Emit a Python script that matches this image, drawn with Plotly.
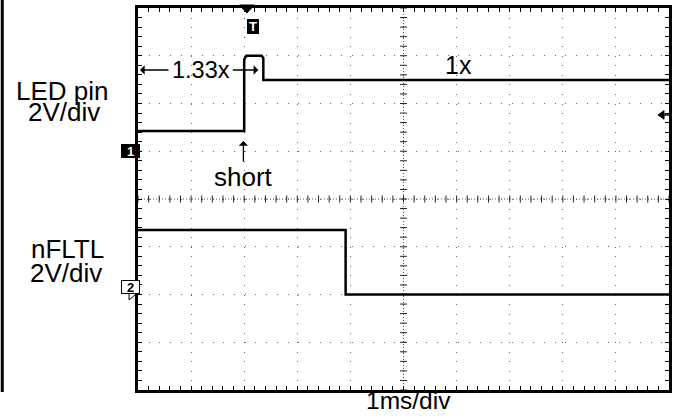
import plotly.graph_objects as go
import numpy as np

# time base 1 ms/div, 10 divisions; both channels 2 V/div, 8 divisions
t_led = [0, 2.0, 2.0, 2.04, 2.33, 2.36, 2.36, 10]
v_led = [0.85, 0.85, 3.85, 4.0, 4.0, 3.9, 2.98, 2.98]

t_fltl = [0, 3.91, 3.91, 10]
v_fltl = [2.7, 2.7, 0.0, 0.0]

ch1_range = [-10, 6]   # ground one division above centre
ch2_range = [-4, 12]   # ground two divisions below centre
trig_level = 1.52

W, H = 677, 418
L, R, T, B = 138, 5, 8, 28
pw, ph = W - L - R, H - T - B


def px(p):
    return (p - L) / pw


def py(p):
    return (H - B - p) / ph


font = "Liberation Sans, Arial, sans-serif"

fig = go.Figure()

# centre crosshair ticks
minor_x = np.arange(0, 10.001, 0.2)
minor_y = np.arange(ch1_range[0], ch1_range[1] + 0.001, 0.4)
fig.add_trace(go.Scatter(x=minor_x, y=[-2] * len(minor_x), mode="markers", yaxis="y",
                         marker=dict(symbol="line-ns", size=5, line=dict(width=1, color="#222")),
                         hoverinfo="skip"))
fig.add_trace(go.Scatter(x=[5] * len(minor_y), y=minor_y, mode="markers", yaxis="y",
                         marker=dict(symbol="line-ew", size=5, line=dict(width=1, color="#222")),
                         hoverinfo="skip"))

fig.add_trace(go.Scatter(x=t_led, y=v_led, mode="lines", yaxis="y",
                         line=dict(color="black", width=2.5)))
fig.add_trace(go.Scatter(x=t_fltl, y=v_fltl, mode="lines", yaxis="y2",
                         line=dict(color="black", width=2.5)))

fig.add_shape(type="line", xref="x", yref="paper", x0=5, x1=5, y0=0, y1=1,
              line=dict(color="#555", width=1, dash="1px,2px"), layer="below")
fig.add_shape(type="line", xref="paper", yref="y", x0=0, x1=1, y0=-2, y1=-2,
              line=dict(color="#555", width=1, dash="1px,2px"), layer="below")

# far-left frame edge
fig.add_shape(type="line", xref="paper", yref="paper", x0=px(1.5), x1=px(1.5), y0=py(392), y1=1.05,
              line=dict(color="black", width=3))

# channel marker arrow tips
for yc, fill in [(151, "black"), (294, "white")]:
    fig.add_shape(type="path", xref="paper", yref="paper",
                  path=f"M {px(129)} {py(yc - 6)} L {px(136)} {py(yc)} L {px(129)} {py(yc + 6)} Z",
                  fillcolor=fill, line=dict(color="black", width=1))
# trigger position arrow tip
fig.add_shape(type="path", xref="paper", yref="paper",
              path=f"M {px(240)} {py(5)} L {px(255)} {py(5)} L {px(247.5)} {py(13)} Z",
              fillcolor="black", line=dict(color="black", width=1))
# trigger level marker
fig.add_shape(type="path", xref="paper", yref="y",
              path=f"M {px(661)} {trig_level} L {px(667)} {trig_level + 0.18} L {px(667)} {trig_level - 0.18} Z",
              fillcolor="black", line=dict(color="black", width=1))
fig.add_shape(type="line", xref="paper", yref="y", x0=px(666), x1=1, y0=trig_level, y1=trig_level,
              line=dict(color="black", width=1.5))

ann = [
    dict(text="LED pin", x=px(62), y=py(91), size=26),
    dict(text="2V/div", x=px(64), y=py(112), size=26),
    dict(text="nFLTL", x=px(67.5), y=py(249), size=26),
    dict(text="2V/div", x=px(65.5), y=py(273), size=26),
    dict(text="1ms/div", x=px(410), y=py(400), size=24.5),
    dict(text="1.33x", x=px(201), y=py(70), size=23.5),
    dict(text="1x", x=px(460), y=py(65), size=25),
    dict(text="short", x=px(244), y=py(177), size=26),
]
for a in ann:
    fig.add_annotation(text=a["text"], x=a["x"], y=a["y"], xref="paper", yref="paper",
                       showarrow=False, font=dict(family=font, size=a["size"], color="black"),
                       xanchor="center", yanchor="middle")

# channel / trigger badges
badges = [
    dict(text="<b>1</b>", x=px(121), y=py(151), bg="black", fg="white", w=17, h=12),
    dict(text="<b>2</b>", x=px(121), y=py(294), bg="white", fg="black", w=17, h=12),
    dict(text="<b>T</b>", x=px(247.5), y=py(19.5), bg="black", fg="white", w=10, h=13),
]
for b in badges:
    fig.add_annotation(text=b["text"], x=b["x"], y=b["y"], xref="paper", yref="paper",
                       showarrow=False, bgcolor=b["bg"], bordercolor="black", borderwidth=1,
                       borderpad=0, width=b["w"], height=b["h"],
                       font=dict(family=font, size=13, color=b["fg"]))

# arrows
arrow = dict(xref="paper", yref="paper", axref="pixel", ayref="pixel", text="", showarrow=True,
             arrowhead=1, arrowsize=1.2, arrowwidth=1.3, arrowcolor="black")
fig.add_annotation(x=px(140), y=py(70), ax=30, ay=0, **arrow)
fig.add_annotation(x=px(259), y=py(70), ax=-27, ay=0, **arrow)
fig.add_annotation(x=px(244), y=py(141), ax=0, ay=22, **arrow)

axis_common = dict(showline=True, linewidth=3, linecolor="black", mirror="allticks",
                   ticks="inside", ticklen=4, tickcolor="black", showticklabels=False,
                   zeroline=False, fixedrange=True)

fig.update_layout(
    width=W, height=H,
    margin=dict(l=L, r=R, t=T, b=B),
    paper_bgcolor="white", plot_bgcolor="white",
    showlegend=False,
    xaxis=dict(range=[0, 10], dtick=1, showgrid=True, gridcolor="#666", gridwidth=1,
               griddash="1px,8.55px",
               minor=dict(ticks="inside", dtick=0.2, ticklen=4, tickcolor="black", showgrid=False),
               **axis_common),
    yaxis=dict(range=ch1_range, dtick=2, showgrid=True, gridcolor="#666", gridwidth=1,
               griddash="1px,9.68px",
               minor=dict(ticks="inside", dtick=0.4, ticklen=4, tickcolor="black", showgrid=False),
               **axis_common),
    yaxis2=dict(range=ch2_range, overlaying="y", visible=False, fixedrange=True),
)

fig.write_html("out.html", config={"displayModeBar": False},
               post_script="document.body.style.margin='0';")
